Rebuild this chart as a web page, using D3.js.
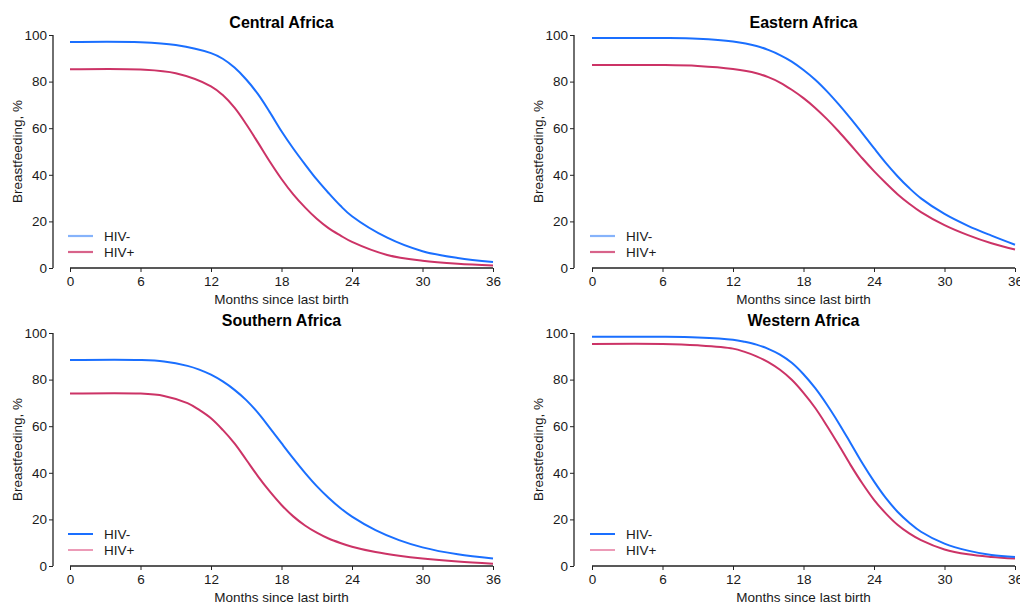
<!DOCTYPE html>
<html>
<head>
<meta charset="utf-8">
<script src="https://cdn.jsdelivr.net/npm/d3@7"></script>
<style>
  html, body { margin: 0; padding: 0; background: #fff; }
  svg { display: block; font-family: "Liberation Sans", Arial, sans-serif; }
</style>
</head>
<body>
<svg id="chart" width="1020" height="603"></svg>
<script>
// ---- Data ----
const panelTitles = ["Central Africa", "Eastern Africa", "Southern Africa", "Western Africa"];
const seriesNames = ["HIV-", "HIV+"];
const xTicks = [0, 6, 12, 18, 24, 30, 36];
const yTicks = [0, 20, 40, 60, 80, 100];

const centralMonths = [0, 6, 9, 12, 13, 14, 15, 16, 17, 18, 19, 20, 21, 22, 23, 24, 27, 30, 33, 36];
const centralNeg    = [97, 96.9, 95.7, 92.2, 89.8, 86, 80.9, 74.6, 66.9, 58.7, 51.3, 44.5, 38, 32.2, 26.8, 22.2, 13, 7.2, 4.3, 2.6];
const centralPos    = [85.3, 85.2, 83.6, 78, 74.2, 68.8, 61.7, 53.8, 45.7, 38.2, 31.6, 26, 21.1, 17.1, 14, 11.2, 5.6, 3.1, 1.8, 1.1];

const easternMonths = [0, 6, 9, 12, 14, 15, 16, 17, 18, 19, 20, 21, 22, 23, 24, 25, 26, 27, 28, 30, 32, 34, 36];
const easternNeg    = [98.7, 98.7, 98.4, 97.2, 95.3, 93.6, 91.4, 88.6, 85, 80.8, 75.8, 70.2, 64.2, 57.9, 51.4, 45.1, 39.4, 34.3, 29.9, 23.2, 18.1, 13.9, 10];
const easternPos    = [87.1, 87.1, 86.7, 85.4, 83.6, 81.9, 79.6, 76.5, 72.9, 68.7, 63.9, 58.6, 52.9, 47.1, 41.6, 36.5, 31.7, 27.6, 24, 18.4, 14.1, 10.6, 7.9];

const southernMonths = [0, 6, 8, 10, 11, 12, 13, 14, 15, 16, 17, 18, 19, 20, 21, 22, 23, 24, 26, 28, 30, 33, 36];
const southernNeg    = [88.4, 88.4, 87.8, 85.9, 84.3, 82.1, 79.2, 75.6, 71.2, 65.7, 59.3, 52.7, 46.2, 40, 34.3, 29.3, 24.9, 21.2, 15.4, 11.1, 8, 5, 3.2];
const southernPos    = [74, 74, 73, 69.9, 67, 63.4, 58.4, 52.6, 45.6, 38.5, 32, 26.2, 21.3, 17.4, 14.3, 11.8, 9.9, 8.3, 6, 4.4, 3.2, 1.9, 1];

const westernMonths = [0, 6, 9, 12, 13, 14, 15, 16, 17, 18, 19, 20, 21, 22, 23, 24, 25, 26, 27, 28, 30, 32, 34, 36];
const westernNeg    = [98.4, 98.4, 98.1, 97.1, 96.2, 95, 93.2, 90.7, 87.2, 82.3, 76.3, 69.2, 61.3, 52.8, 44.2, 36.3, 29.2, 23.3, 18.6, 14.7, 9.6, 6.6, 4.7, 3.9];
const westernPos    = [95.3, 95.3, 94.7, 93.3, 91.9, 90, 87.5, 84.2, 79.9, 74.3, 67.8, 60.1, 51.9, 43.4, 35.5, 28.4, 22.6, 17.7, 14, 11.1, 7.1, 5, 3.9, 3.2];

// ---- Layout ----
const panels = [
  { title: panelTitles[0], months: centralMonths,  neg: centralNeg,  pos: centralPos,  ax: 53,  x0: 70,  x1: 493,  yTop: 35,  yBot: 268, legendStyle: "light" },
  { title: panelTitles[1], months: easternMonths,  neg: easternNeg,  pos: easternPos,  ax: 574, x0: 592, x1: 1015, yTop: 35,  yBot: 268, legendStyle: "light" },
  { title: panelTitles[2], months: southernMonths, neg: southernNeg, pos: southernPos, ax: 53,  x0: 70,  x1: 493,  yTop: 333, yBot: 566, legendStyle: "dark" },
  { title: panelTitles[3], months: westernMonths,  neg: westernNeg,  pos: westernPos,  ax: 574, x0: 592, x1: 1015, yTop: 333, yBot: 566, legendStyle: "dark" }
];

const colNeg = "#1a6fff";
const colPos = "#cc3366";
const textCol = "#1a1a1a";
const axisCol = "#222";

const svg = d3.select("#chart");

panels.forEach(p => {
  const g = svg.append("g");
  const x = d3.scaleLinear().domain([0, 36]).range([p.x0, p.x1]);
  const y = d3.scaleLinear().domain([0, 100]).range([p.yBot, p.yTop]);

  const yAx = g.append("g")
    .attr("transform", `translate(${p.ax},0)`)
    .call(d3.axisLeft(y).tickValues(yTicks).tickSize(4).tickPadding(2).tickFormat(d3.format("d")));
  const xAx = g.append("g")
    .attr("transform", `translate(0,${p.yBot})`)
    .call(d3.axisBottom(x).tickValues(xTicks).tickSize(4).tickPadding(4).tickFormat(d3.format("d")));
  [yAx, xAx].forEach(a => {
    a.select(".domain").attr("stroke", axisCol).attr("stroke-width", 1.3);
    a.selectAll(".tick line").attr("stroke", axisCol).attr("stroke-width", 1);
    a.selectAll(".tick text").attr("fill", textCol).style("font-size", "13.5px")
      .style("font-family", "'Liberation Sans', Arial, sans-serif");
  });
  yAx.select(".domain").attr("d", `M0,${p.yBot}V${p.yTop}`);
  xAx.select(".domain").attr("d", `M${p.x0},0H${p.x1}`);

  const cx = (p.x0 + p.x1) / 2;
  g.append("text")
    .attr("x", cx).attr("y", p.yTop - 7)
    .attr("text-anchor", "middle")
    .attr("fill", "#000")
    .style("font-size", "16px").style("font-weight", "bold")
    .text(p.title);
  g.append("text")
    .attr("x", cx).attr("y", p.yBot + 36)
    .attr("text-anchor", "middle")
    .attr("fill", textCol)
    .style("font-size", "13.5px")
    .text("Months since last birth");
  g.append("text")
    .attr("transform", `translate(${p.ax - 31},${(p.yTop + p.yBot) / 2}) rotate(-90)`)
    .attr("text-anchor", "middle")
    .attr("fill", textCol)
    .style("font-size", "13.5px")
    .text("Breastfeeding, %");

  const line = d3.line()
    .x(d => x(d[0]))
    .y(d => y(d[1]))
    .curve(d3.curveCatmullRom.alpha(0.5));
  const negData = p.months.map((m, i) => [m, p.neg[i]]);
  const posData = p.months.map((m, i) => [m, p.pos[i]]);
  g.append("path").datum(posData).attr("d", line)
    .attr("fill", "none").attr("stroke", colPos).attr("stroke-width", 2);
  g.append("path").datum(negData).attr("d", line)
    .attr("fill", "none").attr("stroke", colNeg).attr("stroke-width", 2);

  const lx = p.x0 - 2;
  const ly = p.yBot - 32;
  const legendItems = p.legendStyle === "light"
    ? [{ name: seriesNames[0], color: "#86b3fb", w: 2.2 }, { name: seriesNames[1], color: "#d8638a", w: 2.2 }]
    : [{ name: seriesNames[0], color: colNeg, w: 2 }, { name: seriesNames[1], color: "#dc4a7c", w: 1.1 }];
  legendItems.forEach((it, i) => {
    const yy = ly + i * 16;
    g.append("line")
      .attr("x1", lx).attr("x2", lx + 25)
      .attr("y1", yy).attr("y2", yy)
      .attr("stroke", it.color).attr("stroke-width", it.w);
    g.append("text")
      .attr("x", lx + 36).attr("y", yy)
      .attr("dy", "0.35em")
      .attr("fill", textCol)
      .style("font-size", "13.5px")
      .text(it.name);
  });
});
</script>
</body>
</html>
